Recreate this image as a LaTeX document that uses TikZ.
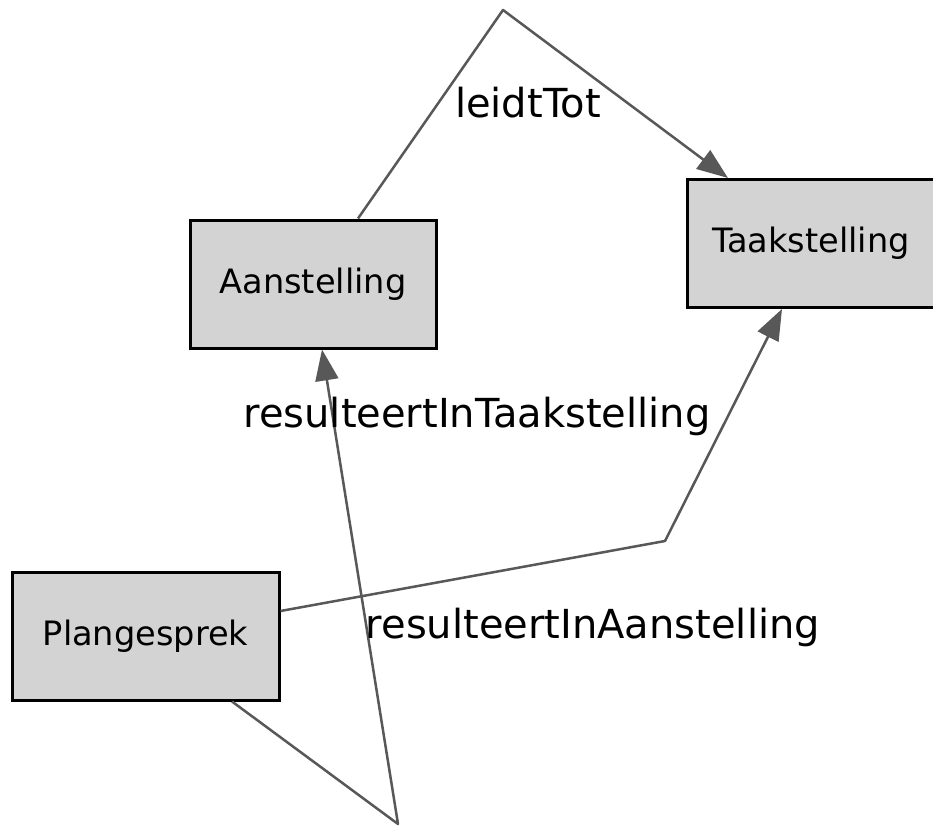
\documentclass[tikz,border=0pt]{standalone}
\usepackage{fontspec}
\setmainfont{DejaVu Sans}
\usetikzlibrary{arrows.meta}
\definecolor{boxfill}{HTML}{D3D3D3}
\definecolor{edgecol}{HTML}{585858}
\tikzset{
  entity/.style={draw=black, line width=3pt, fill=boxfill, minimum height=128pt, inner sep=0pt,
    font=\fontsize{33.6}{40}\selectfont},
  rel/.style={draw=edgecol, line width=2.5pt, line join=round,
    -{Triangle[length=31pt,width=23pt]}, fill=none},
  rellabel/.style={anchor=base, inner sep=0pt, font=\fontsize{40}{48}\selectfont, text=black}
}
\begin{document}
\begin{tikzpicture}[x=1pt,y=-1pt]
\useasboundingbox (0,0) rectangle (933,827);
\node[entity, minimum width=246pt] (A) at (313,284) {Aanstelling};
\node[entity, minimum width=247pt] (T) at (811,243.5) {Taakstelling};
\node[entity, minimum width=267pt] (P) at (145.5,636) {Plangesprek};
\coordinate (b1) at (503,10);
\coordinate (b2) at (665,541);
\coordinate (b3) at (398,824);
\draw[rel, edgecol] ([xshift=45pt]A.north) -- (b1) -- ([xshift=-83pt]T.north);
\draw[rel, edgecol] ([yshift=25pt]P.east) -- (b2) -- ([xshift=-29pt]T.south);
\draw[rel, edgecol] ([xshift=86.5pt]P.south) -- (b3) -- ([xshift=9pt]A.south);
\node[rellabel] (l1) at (528,117) {leidtTot};
\node[rellabel] (l2) at (477,427) {resulteertInTaakstelling};
\node[rellabel] (l3) at (593,638) {resulteertInAanstelling};
\end{tikzpicture}
\end{document}
